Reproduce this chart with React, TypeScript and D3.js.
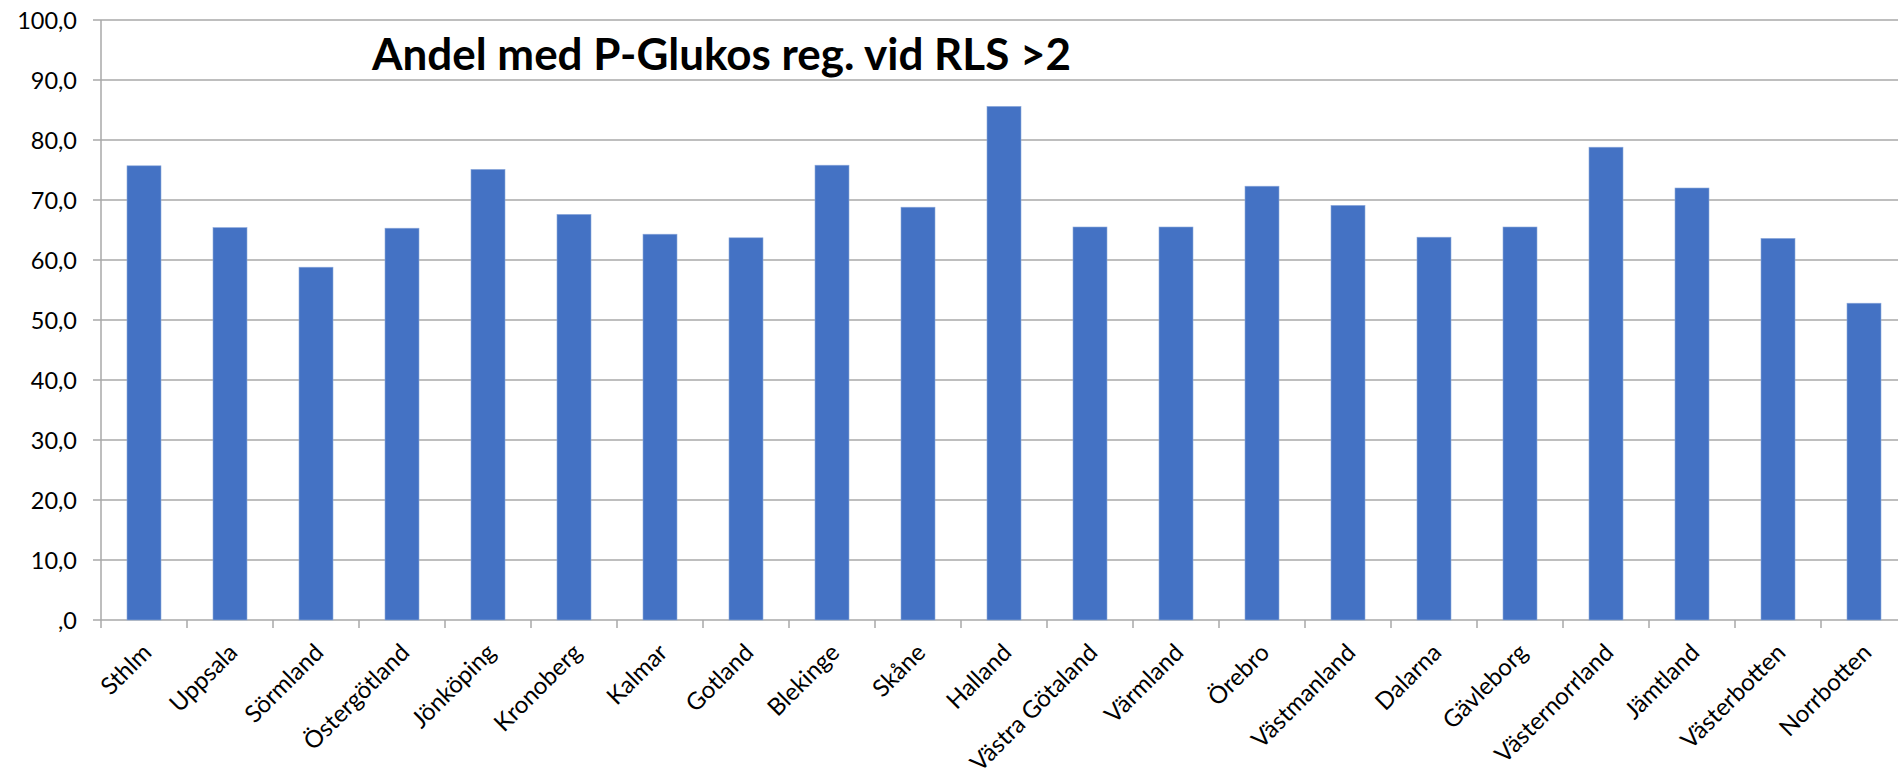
import React from 'react';
import { scaleBand, scaleLinear } from 'd3';

const regions = [
  'Sthlm',
  'Uppsala',
  'Sörmland',
  'Östergötland',
  'Jönköping',
  'Kronoberg',
  'Kalmar',
  'Gotland',
  'Blekinge',
  'Skåne',
  'Halland',
  'Västra Götaland',
  'Värmland',
  'Örebro',
  'Västmanland',
  'Dalarna',
  'Gävleborg',
  'Västernorrland',
  'Jämtland',
  'Västerbotten',
  'Norrbotten',
];

const andel = [
  75.7, 65.4, 58.8, 65.3, 75.1, 67.6, 64.3, 63.7, 75.8, 68.8, 85.6, 65.5, 65.5,
  72.3, 69.1, 63.8, 65.5, 78.8, 72.0, 63.6, 52.8,
];

const yTicks = [0, 10, 20, 30, 40, 50, 60, 70, 80, 90, 100];

const title = 'Andel med P-Glukos reg. vid RLS >2';

const fmt = (v: number) => (v === 0 ? ',0' : v.toFixed(1).replace('.', ','));

export default function App() {
  const width = 1898;
  const height = 779;
  const left = 101;
  const right = 1907;
  const top = 20;
  const bottom = 620;

  const pad = 52 / 86;
  const x = scaleBand<string>()
    .domain(regions)
    .range([left, right])
    .paddingInner(pad)
    .paddingOuter(pad / 2);
  const step = x.step();

  const y = scaleLinear().domain([0, 100]).range([bottom, top]);

  const gridColor = '#a9a9a9';
  const font = 'Lato, "Open Sans", sans-serif';

  return (
    <svg
      width={width}
      height={height}
      style={{ position: 'absolute', left: 0, top: 0, background: '#fff' }}
    >
      {/* grid + y ticks */}
      {yTicks.map((t) => (
        <g key={t}>
          <line
            x1={left - 8}
            x2={right}
            y1={y(t)}
            y2={y(t)}
            stroke={gridColor}
            strokeWidth={1.5}
          />
          <text
            x={77}
            y={y(t)}
            textAnchor='end'
            dominantBaseline='central'
            fontFamily={font}
            fontSize={23.5}
            fill='#000'
          >
            {fmt(t)}
          </text>
        </g>
      ))}

      {/* y axis line */}
      <line
        x1={left}
        x2={left}
        y1={top}
        y2={bottom}
        stroke={gridColor}
        strokeWidth={1.5}
      />

      {/* bars */}
      {regions.map((r, i) => (
        <rect
          key={r}
          x={x(r)}
          y={y(andel[i])}
          width={x.bandwidth()}
          height={bottom - y(andel[i])}
          fill='#4472c4'
          stroke='#8eaadb'
          strokeWidth={0.6}
        />
      ))}

      {/* x ticks at category boundaries */}
      {regions.map((r, i) => (
        <line
          key={'t' + r}
          x1={left + i * step}
          x2={left + i * step}
          y1={bottom}
          y2={bottom + 8}
          stroke={gridColor}
          strokeWidth={1.5}
        />
      ))}

      {/* x labels */}
      {regions.map((r) => {
        const cx = (x(r) as number) + x.bandwidth() / 2;
        return (
          <text
            key={'l' + r}
            transform={`translate(${cx + 9},${bottom + 34}) rotate(-45)`}
            textAnchor='end'
            fontFamily={font}
            fontSize={24}
            fill='#000'
          >
            {r}
          </text>
        );
      })}

      <text
        x={372}
        y={70}
        fontFamily={font}
        fontWeight={700}
        fontSize={43}
        textLength={699}
        lengthAdjust='spacingAndGlyphs'
        fill='#000'
      >
        {title}
      </text>
    </svg>
  );
}
